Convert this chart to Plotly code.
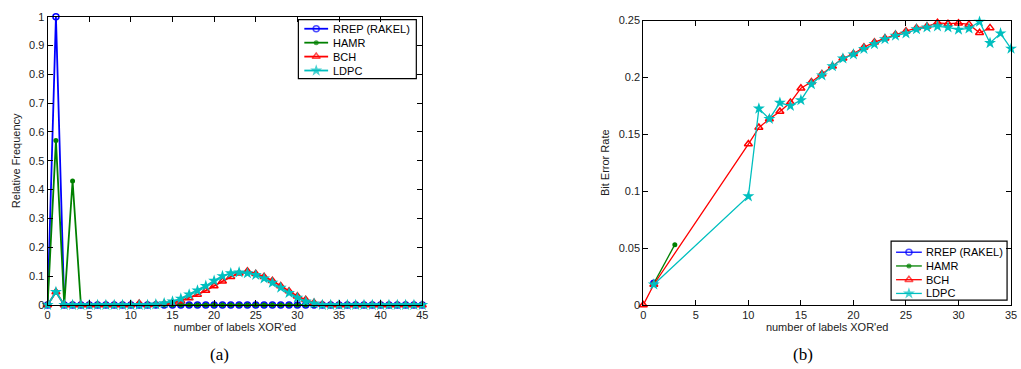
import plotly.graph_objects as go

# ---------------- data: panel (a) relative frequency ----------------
x_a = list(range(0, 46))
rrep_a = [0, 1.0] + [0] * 44
hamr_a = [0, 0.57, 0, 0.43] + [0] * 42
bch_a = [0, 0.045, 0, 0, 0, 0, 0, 0, 0, 0, 0, 0.005, 0, 0.002, 0.004,
         0.008, 0.014, 0.024, 0.036, 0.05, 0.066, 0.082, 0.098, 0.11, 0.117,
         0.108, 0.098, 0.084, 0.066, 0.048, 0.03, 0.018, 0.008, 0.002] + [0] * 12
ldpc_a = [0, 0.045, 0, 0, 0, 0, 0, 0, 0, 0, 0, 0, 0, 0.002, 0.006,
          0.012, 0.022, 0.036, 0.05, 0.066, 0.084, 0.1, 0.11, 0.113, 0.11,
          0.104, 0.092, 0.077, 0.06, 0.042, 0.025, 0.012, 0.005, 0] + [0] * 12

# ---------------- data: panel (b) bit error rate ----------------
rrep_bx = [1]
rrep_by = [0.019]
hamr_bx = [1, 3]
hamr_by = [0.019, 0.053]
bch_bx = [0, 1, 10, 11, 12, 13, 14, 15, 16, 17, 18, 19, 20, 21, 22, 23, 24,
          25, 26, 27, 28, 29, 30, 31, 32, 33]
bch_by = [0, 0.018, 0.1414, 0.1559, 0.1635, 0.17, 0.178, 0.1905, 0.196, 0.203,
          0.2098, 0.2168, 0.2208, 0.2265, 0.231, 0.2344, 0.2378, 0.2406, 0.2435,
          0.2449, 0.248, 0.2472, 0.2477, 0.2466, 0.2392, 0.2435]
ldpc_bx = [1, 10, 11, 12, 13, 14, 15, 16, 17, 18, 19, 20, 21, 22, 23, 24, 25,
           26, 27, 28, 29, 30, 31, 32, 33, 34, 35]
ldpc_by = [0.018, 0.0955, 0.1726, 0.1635, 0.1777, 0.175, 0.18, 0.194, 0.2018,
           0.2098, 0.2166, 0.2202, 0.225, 0.2293, 0.2336, 0.2367, 0.2387, 0.2423,
           0.244, 0.2449, 0.244, 0.242, 0.243, 0.2489, 0.2302, 0.2387, 0.2253]

names = ["RREP (RAKEL)", "HAMR", "BCH", "LDPC"]
colors = ["#0000FF", "#008000", "#FF0000", "#00BFBF"]
symbols = ["circle-open", "circle", "triangle-up-open", "star"]
msizes = [6, 5, 7, 9]
mlw = [1.5, 0, 1.5, 0]

W, H = 1021, 369

def dom_x(a, b):
    return [a / W, b / W]

def dom_y(top, bottom):
    return [(H - bottom) / H, (H - top) / H]

def marker(i, size=None):
    return dict(symbol=symbols[i], size=msizes[i] if size is None else size,
                color=colors[i], line=dict(width=mlw[i], color=colors[i]))

fig = go.Figure()

series_a = [(x_a, rrep_a), (x_a, hamr_a), (x_a, bch_a), (x_a, ldpc_a)]
for i, (xs, ys) in enumerate(series_a):
    fig.add_trace(go.Scatter(x=xs, y=ys, mode="lines+markers", name=names[i],
                             line=dict(color=colors[i], width=1.8), marker=marker(i),
                             cliponaxis=False, xaxis="x", yaxis="y"))

series_b = [(rrep_bx, rrep_by), (hamr_bx, hamr_by), (bch_bx, bch_by), (ldpc_bx, ldpc_by)]
for i, (xs, ys) in enumerate(series_b):
    fig.add_trace(go.Scatter(x=xs, y=ys, mode="lines+markers", name=names[i],
                             line=dict(color=colors[i], width=1.3), marker=marker(i),
                             cliponaxis=False, xaxis="x2", yaxis="y2"))

# ---------------- hand-drawn legends (MATLAB style, compact) ----------------
legend_boxes = [  # (left, top, right, bottom, first-row y, row step, line x0, line x1, text x, line width)
    (298, 14, 417, 75, 23.5, 14.4, 304, 328, 331, 1.8),
    (896, 243, 1013, 304, 254.5, 14.2, 901, 927, 929, 1.3),
]
shapes = []
annotations = []
for (l, t, r, b, y0, dy, lx0, lx1, tx, lw) in legend_boxes:
    shapes.append(dict(type="rect", xref="paper", yref="paper", layer="below",
                       x0=l / W, x1=r / W, y0=(H - b) / H, y1=(H - t) / H,
                       fillcolor="white", line=dict(color="black", width=1.2)))
    for i in range(4):
        yy = y0 + i * dy
        fig.add_trace(go.Scatter(
            x=[lx0, (lx0 + lx1) / 2, lx1], y=[yy, yy, yy], mode="lines+markers",
            line=dict(color=colors[i], width=lw),
            marker=dict(symbol=symbols[i], size=[0, msizes[i], 0], color=colors[i],
                        line=dict(width=mlw[i], color=colors[i])),
            cliponaxis=False, xaxis="x3", yaxis="y3", hoverinfo="skip"))
        annotations.append(dict(text=names[i], x=tx / W, y=(H - yy) / H,
                                xref="paper", yref="paper", xanchor="left",
                                yanchor="middle", showarrow=False,
                                font=dict(family="Liberation Sans, Arial", size=11, color="black")))

annotations += [
    dict(text="(a)", x=218 / W, y=(H - 360) / H, xref="paper", yref="paper",
         xanchor="center", yanchor="middle", showarrow=False,
         font=dict(family="Liberation Serif, Times New Roman", size=17, color="black")),
    dict(text="(b)", x=807 / W, y=(H - 360) / H, xref="paper", yref="paper",
         xanchor="center", yanchor="middle", showarrow=False,
         font=dict(family="Liberation Serif, Times New Roman", size=17, color="black")),
]

axis_common = dict(showline=True, linecolor="black", linewidth=1, mirror="ticks",
                   ticks="inside", ticklen=5, tickcolor="black", showgrid=False,
                   zeroline=False,
                   tickfont=dict(family="Liberation Sans, Arial", size=11, color="#222"))

fig.update_layout(
    width=W, height=H,
    margin=dict(l=0, r=0, t=0, b=0),
    paper_bgcolor="white", plot_bgcolor="rgba(0,0,0,0)",
    showlegend=False,
    font=dict(family="Liberation Sans, Arial", size=11, color="#222"),
    xaxis=dict(domain=dom_x(45, 423), range=[0, 45], dtick=5, tick0=0,
               title=dict(text="number of labels XOR'ed", standoff=2, font=dict(size=11)),
               anchor="y", **axis_common),
    yaxis=dict(domain=dom_y(11, 309), range=[0, 1], dtick=0.1, tick0=0,
               title=dict(text="Relative Frequency", standoff=6, font=dict(size=11)),
               anchor="x", **axis_common),
    xaxis2=dict(domain=dom_x(646, 1017), range=[0, 35], dtick=5, tick0=0,
                title=dict(text="number of labels XOR'ed", standoff=2, font=dict(size=11)),
                anchor="y2", **axis_common),
    yaxis2=dict(domain=dom_y(15, 309), range=[0, 0.25], dtick=0.05, tick0=0,
                title=dict(text="Bit Error Rate", standoff=6, font=dict(size=11)),
                anchor="x2", **axis_common),
    xaxis3=dict(domain=[0, 1], range=[0, W], visible=False, fixedrange=True, anchor="y3"),
    yaxis3=dict(domain=[0, 1], range=[H, 0], visible=False, fixedrange=True, anchor="x3"),
    shapes=shapes,
    annotations=annotations,
)

fig.write_html("out.html")
